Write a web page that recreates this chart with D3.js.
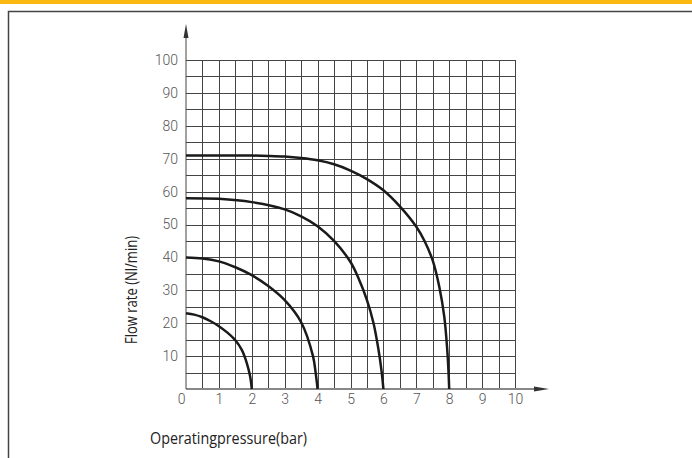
<!DOCTYPE html>
<html>
<head>
<meta charset="utf-8">
<script src="https://cdn.jsdelivr.net/npm/d3@7"></script>
<style>
  body { margin: 0; background: #fff; }
  svg { display: block; }
  .grid line { stroke: #444; stroke-width: 1; shape-rendering: crispEdges; }
  .grid path { display: none; }
  .lbl text { font-family: "Roboto", sans-serif; font-weight: 300; font-size: 14px; fill: #555; }
  .lbl path, .lbl line { display: none; }
  .title { font-family: "Open Sans", sans-serif; font-size: 16px; fill: #222; }
</style>
</head>
<body>
<div id="main"></div>
<script>
// pressure (bar) ticks and flow (Nl/min) ticks
var xTicks = [0, 1, 2, 3, 4, 5, 6, 7, 8, 9, 10];
var yTicks = [10, 20, 30, 40, 50, 60, 70, 80, 90, 100];

// curves: [pressure, flow]
var curve2 = [[0, 23], [0.25, 22.6], [0.5, 21.8], [0.75, 20.6], [1, 19.1], [1.25, 17.2], [1.5, 14.8], [1.7, 11.8], [1.85, 7.8], [1.95, 3.8], [2, 0]];
var curve4 = [[0, 40], [0.5, 39.7], [1, 38.8], [1.5, 37], [2, 34.6], [2.5, 31.3], [3, 27], [3.5, 20.3], [3.86, 10], [3.94, 5], [4, 0]];
var curve6 = [[0, 58], [1, 57.8], [2, 56.8], [3, 54.6], [3.5, 52.5], [4, 49.5], [4.5, 45], [5, 38.6], [5.25, 33.5], [5.5, 27], [5.7, 20], [5.85, 12], [5.95, 5], [6, 0]];
var curve8 = [[0, 71], [1, 71], [2, 70.95], [2.5, 70.85], [3, 70.65], [3.5, 70.2], [4, 69.5], [4.5, 68.3], [5, 66.4], [5.5, 63.8], [6, 60.4], [6.5, 55.5], [7, 49.3], [7.25, 45], [7.5, 39], [7.7, 31], [7.85, 22], [7.94, 12], [7.98, 5], [8, 0]];

const w = 692;
const h = 458;

const xScale = d3.scaleLinear().domain([0, 10]).range([186, 515]);
const yScale = d3.scaleLinear().domain([0, 100]).range([389, 60]);

const svg = d3.select("#main").append("svg").attr("width", w).attr("height", h);

// orange top band and frame
svg.append("rect").attr("x", 0).attr("y", 0).attr("width", w).attr("height", 4).style("fill", "#fdb913");
svg.append("path")
    .attr("d", "M8.5," + h + "V11.5H" + w)
    .style("fill", "none").style("stroke", "#444").style("stroke-width", 1.5);

// grid lines every half bar / every 5 Nl/min
svg.append("g")
    .attr("class", "grid")
    .attr("transform", "translate(0," + yScale(0) + ")")
    .call(d3.axisBottom(xScale).tickValues(d3.range(0.5, 10.01, 0.5)).tickSize(-(yScale(0) - yScale(100))).tickFormat(""));

svg.append("g")
    .attr("class", "grid")
    .attr("transform", "translate(" + xScale(0) + ",0)")
    .call(d3.axisLeft(yScale).tickValues(d3.range(5, 100.01, 5)).tickSize(-(xScale(10) - xScale(0))).tickFormat(""));

// axis lines with arrows
svg.append("line")
    .attr("x1", xScale(0)).attr("x2", 536)
    .attr("y1", yScale(0)).attr("y2", yScale(0))
    .style("stroke", "#888").style("stroke-width", 2);
svg.append("path")
    .attr("d", "M534," + (yScale(0) - 2.5) + "L549," + yScale(0) + "L534," + (yScale(0) + 2.5) + "Z")
    .style("fill", "#333");

svg.append("line")
    .attr("x1", xScale(0)).attr("x2", xScale(0))
    .attr("y1", yScale(0)).attr("y2", 36)
    .style("stroke", "#444").style("stroke-width", 1);
svg.append("path")
    .attr("d", "M" + (xScale(0) - 2.5) + ",38L" + xScale(0) + ",24L" + (xScale(0) + 2.5) + ",38Z")
    .style("fill", "#333");

// tick labels
svg.append("g")
    .attr("class", "lbl")
    .attr("transform", "translate(0," + yScale(0) + ")")
    .call(d3.axisBottom(xScale).tickValues(xTicks).tickSize(0).tickPadding(5))
    .selectAll("text")
    .attr("dx", d => d === 0 ? -5 : 0);

svg.append("g")
    .attr("class", "lbl")
    .attr("transform", "translate(" + xScale(0) + ",0)")
    .call(d3.axisLeft(yScale).tickValues(yTicks).tickSize(0).tickPadding(8));

// curves
const line = d3.line()
    .x(d => xScale(d[0]))
    .y(d => yScale(d[1]))
    .curve(d3.curveCatmullRom.alpha(0.5));

[curve2, curve4, curve6, curve8].forEach(function (c) {
    svg.append("path")
        .datum(c)
        .attr("d", line)
        .style("fill", "none")
        .style("stroke", "#1a1a1a")
        .style("stroke-width", 2.5);
});

// axis titles
svg.append("text")
    .attr("class", "title")
    .attr("transform", "translate(137,290) rotate(-90)")
    .style("text-anchor", "middle")
    .attr("textLength", 108)
    .attr("lengthAdjust", "spacingAndGlyphs")
    .text("Flow rate (Nl/min)");

svg.append("text")
    .attr("class", "title")
    .attr("x", 150)
    .attr("y", 444)
    .attr("textLength", 157)
    .attr("lengthAdjust", "spacingAndGlyphs")
    .text("Operatingpressure(bar)");
</script>
</body>
</html>
